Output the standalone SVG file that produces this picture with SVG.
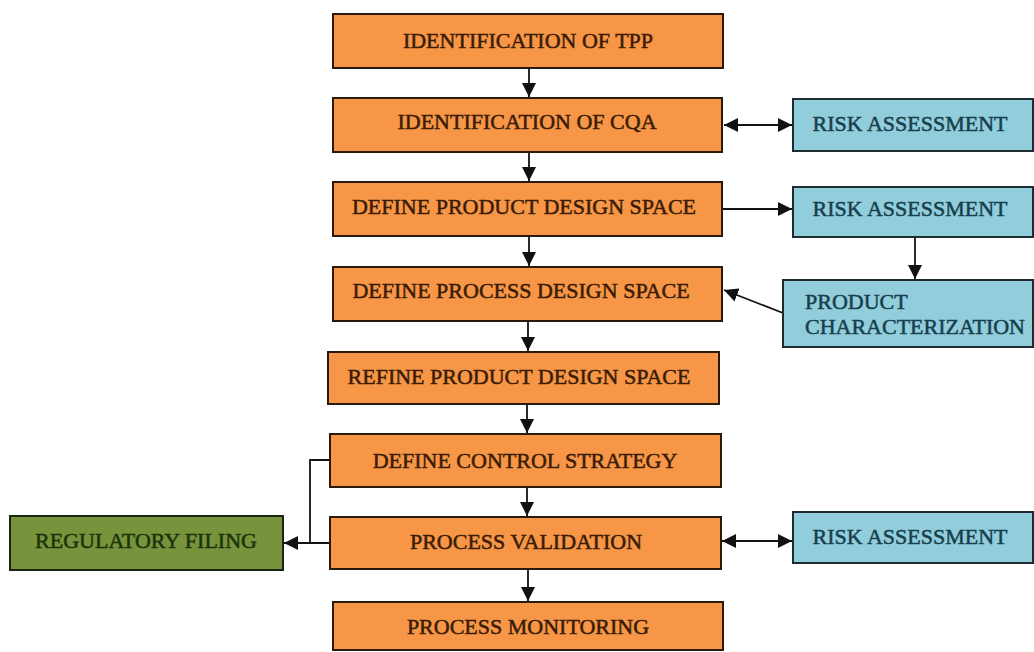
<svg xmlns="http://www.w3.org/2000/svg" width="1034" height="652" viewBox="0 0 1034 652">
<defs>
<marker id="ah" markerUnits="userSpaceOnUse" markerWidth="14" markerHeight="14" refX="12" refY="6" orient="auto-start-reverse" viewBox="0 0 12 12">
<path d="M0,0 L12,6 L0,12 z" fill="#111"/>
</marker>
<style>
.o{fill:#F79646;stroke:#2a1a0c;stroke-width:2}
.b{fill:#92CDDC;stroke:#1e2b30;stroke-width:2}
.g{fill:#77933C;stroke:#1a2410;stroke-width:2}
text{font-family:"Liberation Serif","Times New Roman",serif;font-size:22px;stroke-width:0.5}
.to{fill:#3a1c06;stroke:#3a1c06;text-anchor:middle}
.tb{fill:#173f4d;stroke:#173f4d}
.tg{fill:#1b3309;stroke:#1b3309;text-anchor:middle}
.c{fill:none;stroke:#111;stroke-width:1.8}
</style>
</defs>
<rect width="1034" height="652" fill="#ffffff"/>
<g id="connectors">
<path class="c" d="M529,68 V97" marker-end="url(#ah)"/>
<path class="c" d="M529,152 V181" marker-end="url(#ah)"/>
<path class="c" d="M529,236 V266" marker-end="url(#ah)"/>
<path class="c" d="M528,321 V351" marker-end="url(#ah)"/>
<path class="c" d="M527,404 V433" marker-end="url(#ah)"/>
<path class="c" d="M527,487 V516" marker-end="url(#ah)"/>
<path class="c" d="M528,569 V601" marker-end="url(#ah)"/>
<path class="c" d="M724,125 H792" marker-start="url(#ah)" marker-end="url(#ah)"/>
<path class="c" d="M722,209 H792" marker-end="url(#ah)"/>
<path class="c" d="M915,237 V279" marker-end="url(#ah)"/>
<path class="c" d="M783,313 L724,290" marker-end="url(#ah)"/>
<path class="c" d="M722,541 H792" marker-start="url(#ah)" marker-end="url(#ah)"/>
<path class="c" d="M330,460 H310 V543"/>
<path class="c" d="M330,543 H284" marker-end="url(#ah)"/>
</g>
<g id="n1"><rect class="o" x="333" y="14" width="390" height="54"/><text class="to" x="528" y="48">IDENTIFICATION OF TPP</text></g>
<g id="n2"><rect class="o" x="333" y="98" width="389" height="54"/><text class="to" x="527" y="129">IDENTIFICATION OF CQA</text></g>
<g id="n3"><rect class="o" x="333" y="182" width="389" height="54"/><text class="to" x="524" y="214">DEFINE PRODUCT DESIGN SPACE</text></g>
<g id="n4"><rect class="o" x="333" y="267" width="389" height="54"/><text class="to" x="521" y="298">DEFINE PROCESS DESIGN SPACE</text></g>
<g id="n5"><rect class="o" x="328" y="352" width="391" height="52"/><text class="to" x="519" y="384">REFINE PRODUCT DESIGN SPACE</text></g>
<g id="n6"><rect class="o" x="330" y="434" width="391" height="53"/><text class="to" x="525" y="468">DEFINE CONTROL STRATEGY</text></g>
<g id="n7"><rect class="o" x="330" y="517" width="391" height="52"/><text class="to" x="526" y="549">PROCESS VALIDATION</text></g>
<g id="n8"><rect class="o" x="333" y="602" width="390" height="48"/><text class="to" x="528" y="634">PROCESS MONITORING</text></g>
<g id="r1"><rect class="b" x="793" y="99" width="240" height="52"/><text class="tb" x="910" y="131" text-anchor="middle">RISK ASSESSMENT</text></g>
<g id="r2"><rect class="b" x="793" y="187" width="240" height="50"/><text class="tb" x="910" y="216" text-anchor="middle">RISK ASSESSMENT</text></g>
<g id="pc"><rect class="b" x="783" y="280" width="250" height="67"/><text class="tb" x="805" y="309">PRODUCT</text><text class="tb" x="805" y="334">CHARACTERIZATION</text></g>
<g id="r3"><rect class="b" x="793" y="512" width="240" height="51"/><text class="tb" x="910" y="544" text-anchor="middle">RISK ASSESSMENT</text></g>
<g id="rf"><rect class="g" x="10" y="516" width="273" height="54"/><text class="tg" x="146" y="548">REGULATORY FILING</text></g>
</svg>
